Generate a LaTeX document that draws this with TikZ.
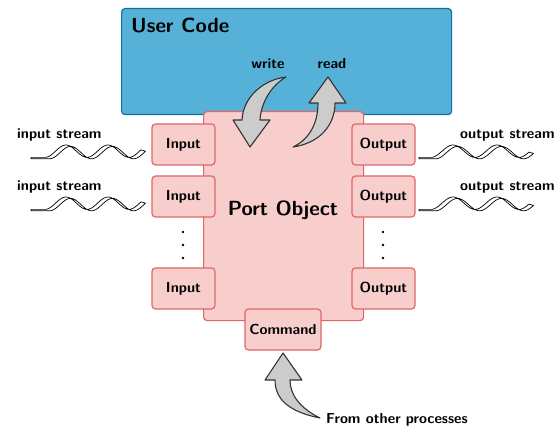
\documentclass[tikz,border=0pt]{standalone}
\definecolor{ublue}{HTML}{56B1D8}
\definecolor{ubluedraw}{HTML}{10739E}
\definecolor{pinkfill}{HTML}{F8CECC}
\definecolor{pinkdraw}{HTML}{E06666}
\definecolor{arrfill}{HTML}{CCCCCC}
\definecolor{arrdraw}{HTML}{333333}
\begin{document}
\begin{tikzpicture}[x=1pt,y=-1pt,
  font=\sffamily\bfseries\fontsize{14.5}{17}\selectfont,
  box/.style={draw=pinkdraw, fill=pinkfill, line width=1.2pt, rounded corners=3.5pt, inner sep=0pt},
  portbox/.style={box, minimum width=63pt, minimum height=41pt},
  bigarrow/.style={draw=arrdraw, fill=arrfill, line width=1.1pt, line join=round},
  ribbon/.style={draw=black, fill=white, line width=0.7pt, line join=round},
  lbl/.style={inner sep=0pt},
  bigfont/.style={font=\sffamily\bfseries\fontsize{20.5}{24}\selectfont}]
\useasboundingbox (0,0) rectangle (559,430);
% user code
\node[draw=ubluedraw, fill=ublue, line width=1.2pt, rounded corners=3.5pt,
  minimum width=330pt, minimum height=106pt, anchor=north west, inner sep=0pt] (user) at (121,8) {};
\node[lbl, bigfont, anchor=base west] (usertitle) at (131,33) {User Code};
\node[lbl, anchor=base] (write) at (268,69) {write};
\node[lbl, anchor=base] (read) at (332,69) {read};
% port object
\node[box, minimum width=160pt, minimum height=209pt, anchor=north west] (po) at (203,111) {};
\node[lbl, bigfont] (potext) at (283,210) {Port Object};
% ports
\node[portbox] (in1) at (183.5,144.5) {Input};
\node[portbox] (in2) at (183.5,196.5) {Input};
\node[portbox] (in3) at (183.5,288.5) {Input};
\node[portbox] (out1) at (383.5,144.5) {Output};
\node[portbox] (out2) at (383.5,196.5) {Output};
\node[portbox] (out3) at (383.5,288.5) {Output};
\node[box, minimum width=76pt, minimum height=41pt] (cmd) at (283,329.5) {Command};
% dots
\foreach \yy in {232,245,258} {
  \fill (183,\yy) circle (1.3pt);
  \fill (383,\yy) circle (1.3pt);
}
% stream labels
\node[lbl, anchor=base west] (is1) at (17,139) {input stream};
\node[lbl, anchor=base west] (is2) at (17,191) {input stream};
\node[lbl, anchor=base west] (os1) at (460,139) {output stream};
\node[lbl, anchor=base west] (os2) at (460,191) {output stream};
% waves (ribbons): start x, trough start x, length, period
\foreach \sx/\tx/\len/\per in {31/45/96/42, 419/431/98/44} {
  \foreach \dy in {0,52} {
    \draw[ribbon] (\sx,157.4+\dy) -- (\tx,157.4+\dy)
      -- plot[domain=0:\len, samples=80, smooth] ({\x+\tx}, {157.4+\dy-6.2*(1-cos(\x/\per*360))})
      -- plot[domain=\len:0, samples=80, smooth] ({\x+\tx+4.5}, {158.8+\dy-6.2*(1-cos(\x/\per*360))})
      -- (\sx,158.8+\dy) -- cycle;
  }
}
% from other processes
\node[lbl, anchor=base west] (from) at (326,423) {From other processes};
% curved arrows
\draw[bigarrow] (286,77) .. controls (262,80) and (243,98) .. (242,120) -- (233,120) -- (250,147) -- (270,120) -- (260,120) .. controls (261,102) and (272,85) .. (286,77) -- cycle;
\draw[bigarrow] (293,147) .. controls (320,143) and (335,125) .. (335,103) -- (346,103) -- (328,77) -- (309,103) -- (318,103) .. controls (318,125) and (308,140) .. (293,147) -- cycle;
\draw[bigarrow] (320,418) .. controls (290,412) and (275,400) .. (275,380) -- (265,380) -- (283,353) -- (302,380) -- (290,380) .. controls (290,395) and (300,408) .. (320,418) -- cycle;
\end{tikzpicture}
\end{document}
